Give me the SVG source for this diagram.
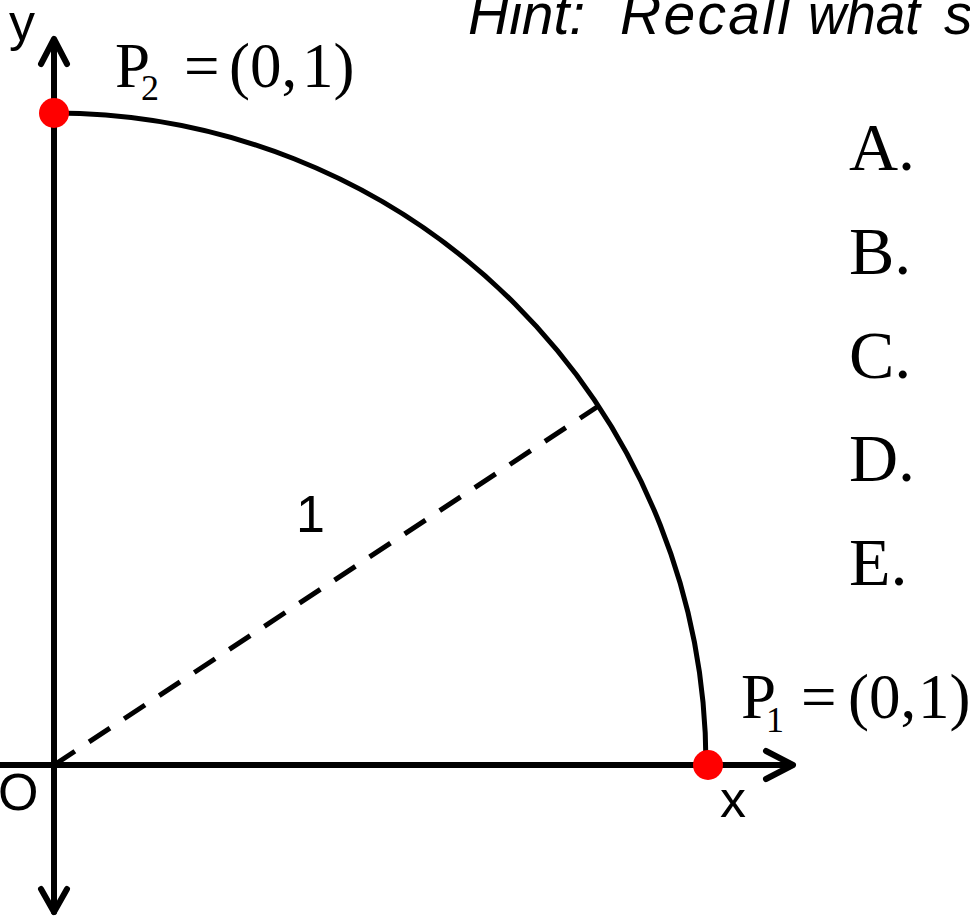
<svg xmlns="http://www.w3.org/2000/svg" width="970" height="916" viewBox="0 0 970 916">
<style>
.ax{stroke:#000;stroke-width:6;fill:none;stroke-linecap:round;stroke-linejoin:round}
.arc{stroke:#000;stroke-width:5;fill:none}
.dash{stroke:#000;stroke-width:5;fill:none;stroke-dasharray:25 17}
.sans{font-family:"Liberation Sans",Arial,sans-serif;font-size:52px;fill:#000}
.serif{font-family:"Liberation Serif","Times New Roman",serif;fill:#000}
.dot{fill:#ff0000}
</style>
<rect width="970" height="916" fill="#fff"/>
<g id="connectors">
<line class="ax" x1="0" y1="765" x2="792" y2="765"/>
<polyline class="ax" points="766,751 793,765 766,779"/>
<line class="ax" x1="54" y1="40" x2="54" y2="912"/>
<polyline class="ax" points="41,64 54,39 67,64"/>
<polyline class="ax" points="41,889 54,912 67,889"/>
<path class="arc" d="M54,113 A652,652 0 0 1 706,765"/>
<line class="dash" x1="54" y1="765" x2="597" y2="407"/>
</g>
<g id="P2">
<circle class="dot" cx="54" cy="113" r="15"/>
<text class="serif" font-size="63"><tspan x="115" y="87">P</tspan><tspan x="141" y="100" font-size="36">2</tspan><tspan x="184" y="87">=</tspan><tspan x="229" y="87">(0,</tspan><tspan x="302" y="87">1)</tspan></text>
</g>
<g id="P1">
<circle class="dot" cx="708" cy="765" r="15"/>
<text class="serif" font-size="63"><tspan x="741" y="718">P</tspan><tspan x="766" y="732" font-size="36">1</tspan><tspan x="801" y="718">=</tspan><tspan x="848" y="718">(0,</tspan><tspan x="918" y="718">1)</tspan></text>
</g>
<g id="labels">
<text class="sans" x="9" y="40">y</text>
<text class="sans" x="-2" y="810">O</text>
<text class="sans" x="720" y="817">x</text>
<text class="sans" x="296" y="532">1</text>
<text y="34" font-family="Liberation Sans,Arial,sans-serif" font-style="italic" font-size="57"><tspan x="468">Hint:</tspan><tspan x="620" textLength="170" lengthAdjust="spacing">Recall</tspan><tspan x="808" textLength="112" lengthAdjust="spacingAndGlyphs">what</tspan><tspan x="944">s</tspan></text>
</g>
<g id="options" class="serif" font-size="68">
<text x="849" y="170">A.</text>
<text x="849" y="274">B.</text>
<text x="849" y="378">C.</text>
<text x="849" y="481">D.</text>
<text x="849" y="585">E.</text>
</g>
</svg>
